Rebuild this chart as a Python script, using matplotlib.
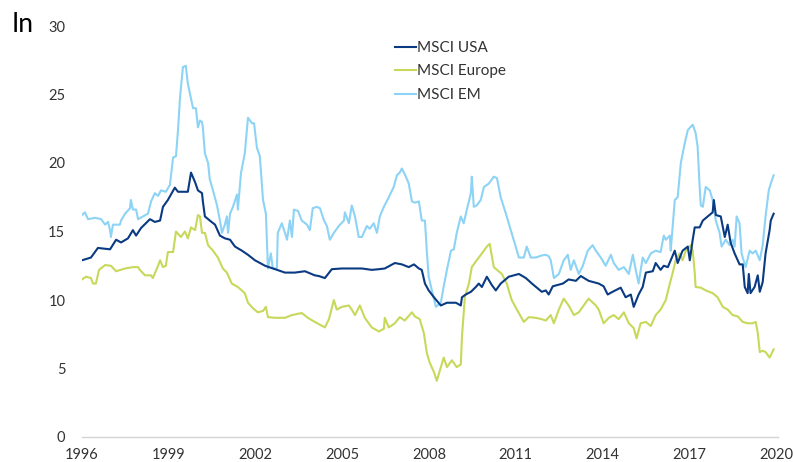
import matplotlib.pyplot as plt

# MSCI USA (forward P/E)
usa_year = [1996.00, 1996.31, 1996.55, 1996.97, 1997.18, 1997.35, 1997.59, 1997.76, 1997.87, 1998.04,
            1998.35, 1998.52, 1998.70, 1998.80, 1998.97, 1999.21, 1999.32, 1999.66, 1999.77, 1999.91,
            2000.01, 2000.15, 2000.18, 2000.25, 2000.42, 2000.60, 2000.77, 2000.94, 2001.12, 2001.29,
            2001.53, 2001.74, 2001.98, 2002.33, 2002.67, 2003.02, 2003.36, 2003.71, 2004.05, 2004.19,
            2004.40, 2004.64, 2004.99, 2005.33, 2005.68, 2006.02, 2006.27, 2006.47, 2006.82, 2007.06,
            2007.30, 2007.48, 2007.65, 2007.75, 2007.86, 2007.99, 2008.17, 2008.41, 2008.62, 2008.93,
            2009.10, 2009.14, 2009.27, 2009.45, 2009.62, 2009.72, 2009.83, 2010.00, 2010.17, 2010.31,
            2010.48, 2010.76, 2011.11, 2011.35, 2011.56, 2011.90, 2012.04, 2012.14, 2012.28, 2012.63,
            2012.83, 2013.08, 2013.25, 2013.52, 2013.87, 2014.04, 2014.18, 2014.35, 2014.63, 2014.80,
            2014.98, 2015.08, 2015.25, 2015.39, 2015.50, 2015.74, 2015.84, 2016.01, 2016.12, 2016.26,
            2016.36, 2016.50, 2016.60, 2016.77, 2016.95, 2017.02, 2017.12, 2017.19, 2017.36, 2017.47,
            2017.64, 2017.81, 2017.85, 2017.92, 2018.09, 2018.23, 2018.33, 2018.43, 2018.57, 2018.74,
            2018.85, 2018.92, 2019.02, 2019.06, 2019.12, 2019.26, 2019.37, 2019.44, 2019.54, 2019.64,
            2019.78, 2019.82, 2019.92]
usa_pe = [12.9, 13.1, 13.8, 13.7, 14.4, 14.2, 14.5, 15.1, 14.7, 15.25,
          15.9, 15.7, 15.8, 16.8, 17.3, 18.2, 17.9, 17.9, 19.3, 18.6,
          18.0, 17.8, 17.2, 16.1, 15.8, 15.5, 14.7, 14.5, 14.4, 13.9,
          13.6, 13.3, 12.9, 12.5, 12.25, 12.0, 12.0, 12.1, 11.8, 11.75,
          11.6, 12.25, 12.3, 12.3, 12.3, 12.2, 12.25, 12.3, 12.7, 12.6,
          12.4, 12.6, 12.3, 12.2, 11.2, 10.7, 10.2, 9.6, 9.8, 9.8,
          9.6, 10.2, 10.4, 10.6, 10.95, 11.2, 10.95, 11.7, 11.1, 10.7,
          11.2, 11.7, 11.9, 11.6, 11.2, 10.6, 10.7, 10.4, 11.0, 11.2,
          11.5, 11.4, 11.75, 11.4, 11.2, 11.0, 10.4, 10.6, 10.9, 10.2,
          10.4, 9.5, 10.4, 10.95, 12.0, 12.1, 12.7, 12.2, 12.5, 12.4,
          12.9, 13.6, 12.7, 13.6, 13.9, 12.9, 14.4, 15.3, 15.3, 15.8,
          16.1, 16.4, 17.3, 16.2, 16.1, 14.6, 15.5, 14.2, 13.4, 12.6,
          12.6, 10.95, 10.5, 11.9, 10.5, 10.95, 11.8, 10.6, 11.3, 13.4,
          15.1, 15.8, 16.3]

# MSCI Europe
eur_year = [1996.00, 1996.14, 1996.31, 1996.38, 1996.48, 1996.59, 1996.80, 1997.00, 1997.18, 1997.49,
            1997.76, 1997.94, 1998.00, 1998.18, 1998.39, 1998.45, 1998.63, 1998.70, 1998.80, 1998.90,
            1998.97, 1999.15, 1999.21, 1999.25, 1999.42, 1999.56, 1999.66, 1999.77, 1999.91, 2000.01,
            2000.08, 2000.15, 2000.25, 2000.36, 2000.53, 2000.70, 2000.87, 2001.01, 2001.18, 2001.39,
            2001.63, 2001.74, 2001.91, 2002.08, 2002.26, 2002.36, 2002.43, 2002.67, 2003.02, 2003.26,
            2003.60, 2003.81, 2004.05, 2004.40, 2004.54, 2004.71, 2004.81, 2004.99, 2005.23, 2005.33,
            2005.44, 2005.61, 2005.78, 2006.02, 2006.27, 2006.44, 2006.47, 2006.61, 2006.82, 2006.99,
            2007.16, 2007.41, 2007.51, 2007.68, 2007.82, 2007.93, 2008.03, 2008.17, 2008.27, 2008.41,
            2008.51, 2008.62, 2008.79, 2008.96, 2009.10, 2009.14, 2009.24, 2009.38, 2009.48, 2009.65,
            2009.83, 2010.00, 2010.10, 2010.24, 2010.35, 2010.52, 2010.69, 2010.86, 2011.04, 2011.28,
            2011.45, 2011.69, 2011.90, 2012.04, 2012.21, 2012.32, 2012.49, 2012.66, 2012.83, 2013.01,
            2013.18, 2013.35, 2013.52, 2013.77, 2013.87, 2014.04, 2014.22, 2014.39, 2014.56, 2014.74,
            2014.91, 2015.08, 2015.18, 2015.32, 2015.50, 2015.67, 2015.84, 2016.01, 2016.19, 2016.33,
            2016.43, 2016.53, 2016.67, 2016.77, 2016.88, 2017.05, 2017.12, 2017.19, 2017.22, 2017.40,
            2017.57, 2017.81, 2017.98, 2018.16, 2018.33, 2018.50, 2018.68, 2018.85, 2019.02, 2019.19,
            2019.30, 2019.37, 2019.44, 2019.54, 2019.64, 2019.78, 2019.92]
eur_pe = [11.5, 11.7, 11.6, 11.2, 11.2, 12.2, 12.55, 12.5, 12.1, 12.3,
          12.4, 12.4, 12.2, 11.8, 11.8, 11.6, 12.5, 12.9, 12.4, 12.5,
          13.5, 13.5, 14.4, 15.0, 14.6, 15.0, 14.5, 15.3, 15.1, 16.2,
          16.1, 14.9, 14.9, 14.0, 13.6, 13.1, 12.3, 12.0, 11.2, 10.95,
          10.5, 9.8, 9.4, 9.1, 9.2, 9.5, 8.75, 8.7, 8.7, 8.9,
          9.05, 8.7, 8.4, 8.0, 8.6, 10.0, 9.3, 9.5, 9.6, 9.3,
          8.9, 9.6, 8.7, 8.0, 7.7, 7.9, 8.7, 8.0, 8.3, 8.75,
          8.5, 9.1, 8.8, 8.6, 7.6, 6.1, 5.4, 4.75, 4.1, 5.1,
          5.8, 5.1, 5.6, 5.1, 5.3, 7.3, 10.2, 11.2, 12.4, 12.9,
          13.4, 13.9, 14.1, 12.4, 12.2, 11.9, 11.2, 10.0, 9.3, 8.4,
          8.75, 8.7, 8.6, 8.5, 8.9, 8.3, 9.3, 10.1, 9.6, 8.9,
          9.1, 9.6, 10.1, 9.6, 9.3, 8.3, 8.7, 8.9, 8.6, 9.1,
          8.3, 7.95, 7.2, 8.3, 8.4, 8.1, 8.9, 9.3, 10.0, 11.2,
          12.0, 12.9, 13.4, 12.9, 13.6, 14.0, 13.6, 12.0, 10.95, 10.9,
          10.7, 10.5, 10.2, 9.5, 9.3, 8.9, 8.8, 8.4, 8.3, 8.3,
          8.4, 7.6, 6.2, 6.3, 6.2, 5.8, 6.4]

# MSCI EM
em_year = [1996.00, 1996.10, 1996.21, 1996.45, 1996.66, 1996.80, 1996.90, 1996.97, 1997.00, 1997.07,
           1997.31, 1997.35, 1997.49, 1997.66, 1997.69, 1997.76, 1997.87, 1997.94, 1998.28, 1998.39,
           1998.52, 1998.63, 1998.73, 1998.90, 1999.04, 1999.15, 1999.25, 1999.32, 1999.39, 1999.49,
           1999.59, 1999.66, 1999.84, 1999.94, 2000.01, 2000.08, 2000.15, 2000.18, 2000.25, 2000.36,
           2000.42, 2000.53, 2000.67, 2000.77, 2000.84, 2000.94, 2001.01, 2001.05, 2001.12, 2001.22,
           2001.36, 2001.39, 2001.50, 2001.63, 2001.74, 2001.88, 2001.95, 2002.05, 2002.15, 2002.26,
           2002.36, 2002.43, 2002.53, 2002.60, 2002.74, 2002.77, 2002.91, 2003.02, 2003.09, 2003.19,
           2003.26, 2003.33, 2003.47, 2003.60, 2003.78, 2003.88, 2003.98, 2004.12, 2004.23, 2004.37,
           2004.47, 2004.57, 2004.71, 2004.88, 2005.06, 2005.09, 2005.23, 2005.33, 2005.44, 2005.57,
           2005.68, 2005.85, 2005.95, 2006.09, 2006.20, 2006.30, 2006.44, 2006.61, 2006.78, 2006.89,
           2006.99, 2007.06, 2007.16, 2007.30, 2007.41, 2007.51, 2007.65, 2007.75, 2007.86, 2007.93,
           2007.99, 2008.10, 2008.24, 2008.41, 2008.51, 2008.62, 2008.76, 2008.86, 2008.96, 2009.10,
           2009.20, 2009.31, 2009.45, 2009.48, 2009.55, 2009.65, 2009.79, 2009.90, 2010.07, 2010.24,
           2010.35, 2010.48, 2010.66, 2010.83, 2011.00, 2011.11, 2011.28, 2011.38, 2011.52, 2011.69,
           2011.90, 2012.04, 2012.14, 2012.21, 2012.32, 2012.49, 2012.66, 2012.80, 2012.90, 2013.01,
           2013.18, 2013.32, 2013.49, 2013.66, 2013.77, 2013.94, 2014.11, 2014.29, 2014.39, 2014.56,
           2014.74, 2014.91, 2015.05, 2015.15, 2015.25, 2015.39, 2015.50, 2015.67, 2015.84, 2016.01,
           2016.12, 2016.19, 2016.33, 2016.36, 2016.50, 2016.60, 2016.71, 2016.84, 2016.95, 2017.12,
           2017.22, 2017.29, 2017.36, 2017.40, 2017.47, 2017.57, 2017.71, 2017.81, 2017.92, 2018.05,
           2018.12, 2018.26, 2018.40, 2018.50, 2018.57, 2018.64, 2018.74, 2018.81, 2018.95, 2019.09,
           2019.19, 2019.30, 2019.44, 2019.54, 2019.64, 2019.75, 2019.82, 2019.92]
em_pe = [16.2, 16.4, 15.9, 16.0, 15.9, 15.5, 15.7, 15.1, 14.6, 15.5,
         15.5, 15.8, 16.3, 16.7, 17.3, 16.6, 16.6, 15.9, 16.3, 17.2,
         17.8, 17.6, 18.0, 17.9, 18.4, 20.4, 20.5, 22.4, 24.8, 27.0,
         27.1, 25.8, 24.0, 24.0, 22.6, 23.1, 23.0, 22.6, 20.7, 20.0,
         18.8, 18.0, 16.9, 15.8, 14.9, 15.5, 16.1, 14.9, 16.3, 16.8,
         17.7, 16.6, 19.3, 20.7, 23.3, 22.9, 22.9, 21.1, 20.5, 17.3,
         16.3, 12.3, 13.4, 12.3, 12.3, 14.9, 15.6, 14.9, 14.4, 15.8,
         14.6, 16.6, 16.5, 15.8, 15.5, 15.1, 16.7, 16.8, 16.7, 15.8,
         15.4, 14.4, 14.9, 15.4, 15.8, 16.4, 15.6, 16.9, 16.1, 14.6,
         14.6, 15.4, 15.2, 15.6, 14.9, 16.1, 16.8, 17.5, 18.25, 19.1,
         19.3, 19.6, 19.2, 18.5, 17.2, 17.1, 17.2, 15.8, 15.8, 13.4,
         11.7, 10.7, 9.5, 9.8, 11.0, 12.2, 13.6, 13.7, 14.9, 16.1,
         15.6, 16.6, 17.8, 19.0, 16.8, 16.9, 17.3, 18.25, 18.5, 19.0,
         18.9, 17.5, 16.3, 15.1, 13.9, 13.1, 13.1, 13.9, 13.1, 13.1,
         13.25, 13.3, 13.2, 12.9, 11.6, 11.9, 12.9, 13.3, 12.2, 12.9,
         11.9, 12.5, 13.6, 14.0, 13.6, 13.1, 12.5, 13.3, 12.7, 12.2,
         12.4, 11.9, 13.3, 12.2, 11.2, 13.1, 12.7, 13.4, 13.6, 13.5,
         14.7, 14.4, 14.7, 13.6, 17.3, 17.5, 20.0, 21.4, 22.4, 22.8,
         22.2, 21.2, 18.25, 16.9, 16.8, 18.25, 18.0, 17.3, 15.8, 14.9,
         13.9, 14.4, 14.0, 14.4, 13.9, 16.1, 15.6, 13.4, 12.4, 13.6,
         13.4, 13.6, 12.9, 14.0, 16.1, 18.0, 18.5, 19.1]

labels = ['MSCI USA', 'MSCI Europe', 'MSCI EM']
colors = ['#0a3a82', '#c8d85a', '#8dd3f5']
xticks = [1996, 1999, 2002, 2005, 2008, 2011, 2014, 2017, 2020]
yticks = [0, 5, 10, 15, 20, 25, 30]

plt.rcParams['font.family'] = ['Lato', 'DejaVu Sans']

fig = plt.figure(figsize=(7.93, 4.62), dpi=100)
ax = fig.add_axes([82 / 793, 1 - 437 / 462, 696 / 793, 411 / 462])

ax.plot(usa_year, usa_pe, color=colors[0], lw=1.5, label=labels[0], zorder=4)
ax.plot(eur_year, eur_pe, color=colors[1], lw=1.5, label=labels[1], zorder=2)
ax.plot(em_year, em_pe, color=colors[2], lw=1.5, label=labels[2], zorder=3)

ax.set_xlim(1996, 2020.07)
ax.set_ylim(0, 30)
ax.set_xticks(xticks)
ax.set_yticks(yticks)
ax.tick_params(length=0, labelsize=10.5, colors='#333333')
ax.tick_params(axis='y', pad=12)
ax.tick_params(axis='x', pad=8)

for side in ['top', 'right', 'left']:
    ax.spines[side].set_visible(False)
ax.spines['bottom'].set_color('#d4d4d4')
ax.spines['bottom'].set_linewidth(1.0)

fig.text(12 / 793, 1 - 25 / 462, 'In', fontsize=19, color='black', va='center', ha='left')

ax.legend(loc='upper left', bbox_to_anchor=(395 / 793, 1 - 41 / 462), bbox_transform=fig.transFigure,
          frameon=False, fontsize=11, handlelength=1.37, handletextpad=0.1, labelspacing=0.62,
          borderpad=0, borderaxespad=0, labelcolor='#333333')

fig.savefig('out.png', dpi=100)
